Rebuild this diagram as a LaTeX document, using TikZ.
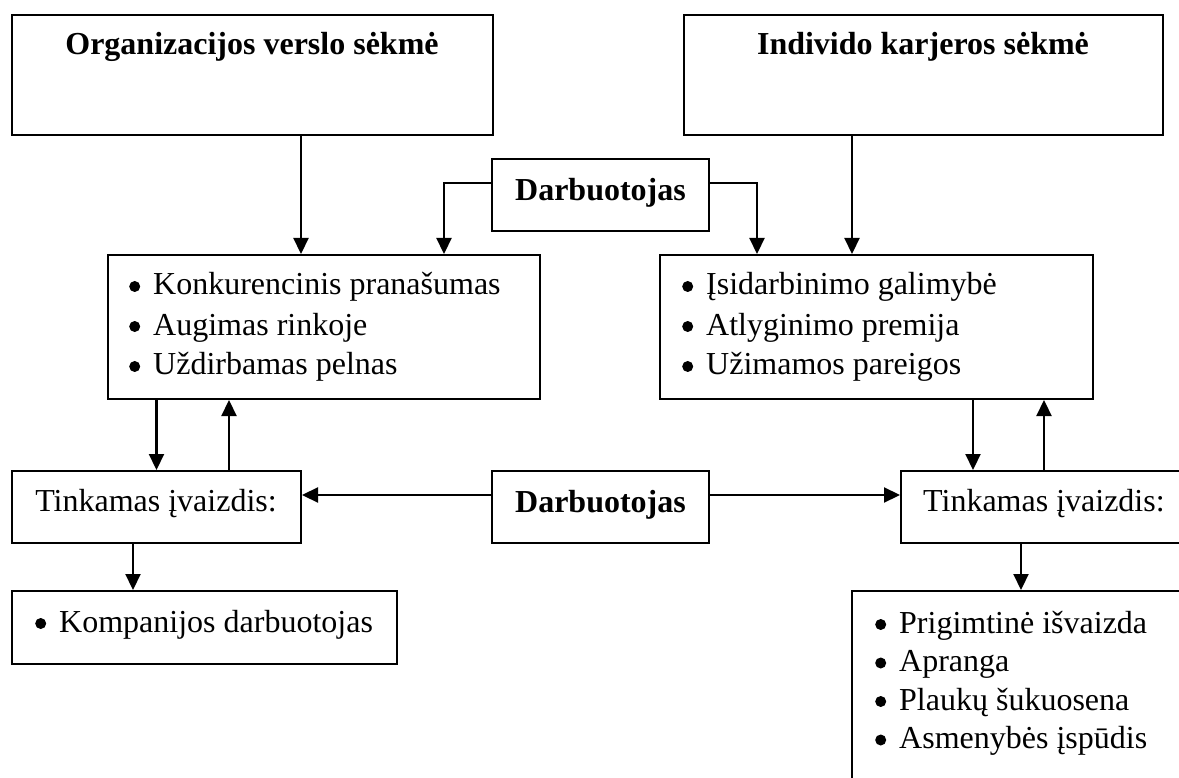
\documentclass[tikz,border=0pt]{standalone}
\usepackage{fontspec}
\setmainfont{Liberation Serif}
\usetikzlibrary{arrows.meta}
% round bullet mark followed by a fixed gap before the item text
\newcommand{\itm}{\makebox[24pt][l]{\tikz[baseline=0pt,x=1pt,y=1pt,scale=1]\fill (5.5,8.5) circle[radius=5.5];}}
% bullet list, anchored at the baseline of its first line
\newcommand{\blist}[1]{\begin{tabular}[t]{@{}l@{}}#1\end{tabular}}
\begin{document}
\begin{tikzpicture}[x=1pt,y=-1pt,
  box/.style={draw, line width=2pt, rectangle, inner sep=0pt},
  txt/.style={font=\fontsize{32}{40}\selectfont, inner sep=0pt},
  ltxt/.style={font=\fontsize{32}{38.5}\selectfont, inner sep=0pt},
  btxt/.style={font=\fontsize{32}{39}\selectfont\bfseries, inner sep=0pt},
  arr/.style={line width=2.2pt, -{Triangle[length=16pt,width=15pt]}}]
\useasboundingbox (0,0) rectangle (1179,778);
\clip (0,0) rectangle (1179,778);

% frames
\node[box, minimum width=481pt, minimum height=120pt] (org) at (252.5,75) {};
\node[box, minimum width=479pt, minimum height=120pt] (ind) at (923.5,75) {};
\node[box, minimum width=217pt, minimum height=72pt] (darbT) at (600.5,195) {};
\node[box, minimum width=432pt, minimum height=144pt] (b3) at (324,327) {};
\node[box, minimum width=433pt, minimum height=144pt] (b4) at (876.5,327) {};
\node[box, minimum width=289pt, minimum height=72pt] (tinkL) at (156.5,507) {};
\node[box, minimum width=217pt, minimum height=72pt] (darbM) at (600.5,507) {};
\node[box, minimum width=290pt, minimum height=72pt] (tinkR) at (1046,507) {};
\node[box, minimum width=385pt, minimum height=73pt] (komp) at (204.5,627.5) {};
\node[box, minimum width=340pt, minimum height=209pt] (br) at (1022,695.5) {};

% texts
\node[btxt, anchor=base] (t1) at (252,55) {Organizacijos verslo sėkmė};
\node[btxt, anchor=base] (t2) at (923,55) {Individo karjeros sėkmė};
\node[btxt, anchor=base] (t3) at (600.5,201) {Darbuotojas};
\node[btxt, anchor=base] (t4) at (600.5,512) {Darbuotojas};
\node[txt, anchor=base] (t5) at (156,511) {Tinkamas įvaizdis:};
\node[txt, anchor=base west] (t6) at (923,511) {Tinkamas įvaizdis:};

\node[txt, anchor=base west] (l1) at (129,295) {\blist{\itm Konkurencinis pranašumas\\
  \itm Augimas rinkoje\\ \itm Uždirbamas pelnas}};

\node[txt, anchor=base west] (r1) at (682,295) {\blist{\itm Įsidarbinimo galimybė\\
  \itm Atlyginimo premija\\ \itm Užimamos pareigos}};

\node[txt, anchor=base west] (k1) at (35,632) {\itm Kompanijos darbuotojas};

\node[ltxt, anchor=base west] (p1) at (875,633) {\blist{\itm Prigimtinė išvaizda\\
  \itm Apranga\\ \itm Plaukų šukuosena\\ \itm Asmenybės įspūdis}};

% connectors
\draw[arr] ([xshift=48.5pt]org.south) -- ([xshift=48.5pt]org.south |- b3.north);
\draw[arr] ([xshift=-71.5pt]ind.south) -- ([xshift=-71.5pt]ind.south |- b4.north);
\draw[arr] ([yshift=12pt]darbT.west) -| ([xshift=120pt]b3.north);
\draw[arr] ([yshift=12pt]darbT.east) -| ([xshift=-119.5pt]b4.north);

\draw[arr] (tinkL.north |- b3.south) -- (tinkL.north);
\draw[arr] ([xshift=72.5pt]tinkL.north) -- ([xshift=72.5pt]tinkL.north |- b3.south);
\draw[arr] ([xshift=-73pt]tinkR.north |- b4.south) -- ([xshift=-73pt]tinkR.north);
\draw[arr] ([xshift=-2pt]tinkR.north) -- ([xshift=-2pt]tinkR.north |- b4.south);

\draw[arr] ([yshift=12pt]darbM.west) -- ([yshift=12pt]tinkL.east);
\draw[arr] ([yshift=12pt]darbM.east) -- ([yshift=12pt]tinkR.west);

\draw[arr] ([xshift=-23.5pt]tinkL.south) -- ([xshift=-23.5pt]tinkL.south |- komp.north);
\draw[arr] ([xshift=-25pt]tinkR.south) -- ([xshift=-25pt]tinkR.south |- br.north);
\end{tikzpicture}
\end{document}
